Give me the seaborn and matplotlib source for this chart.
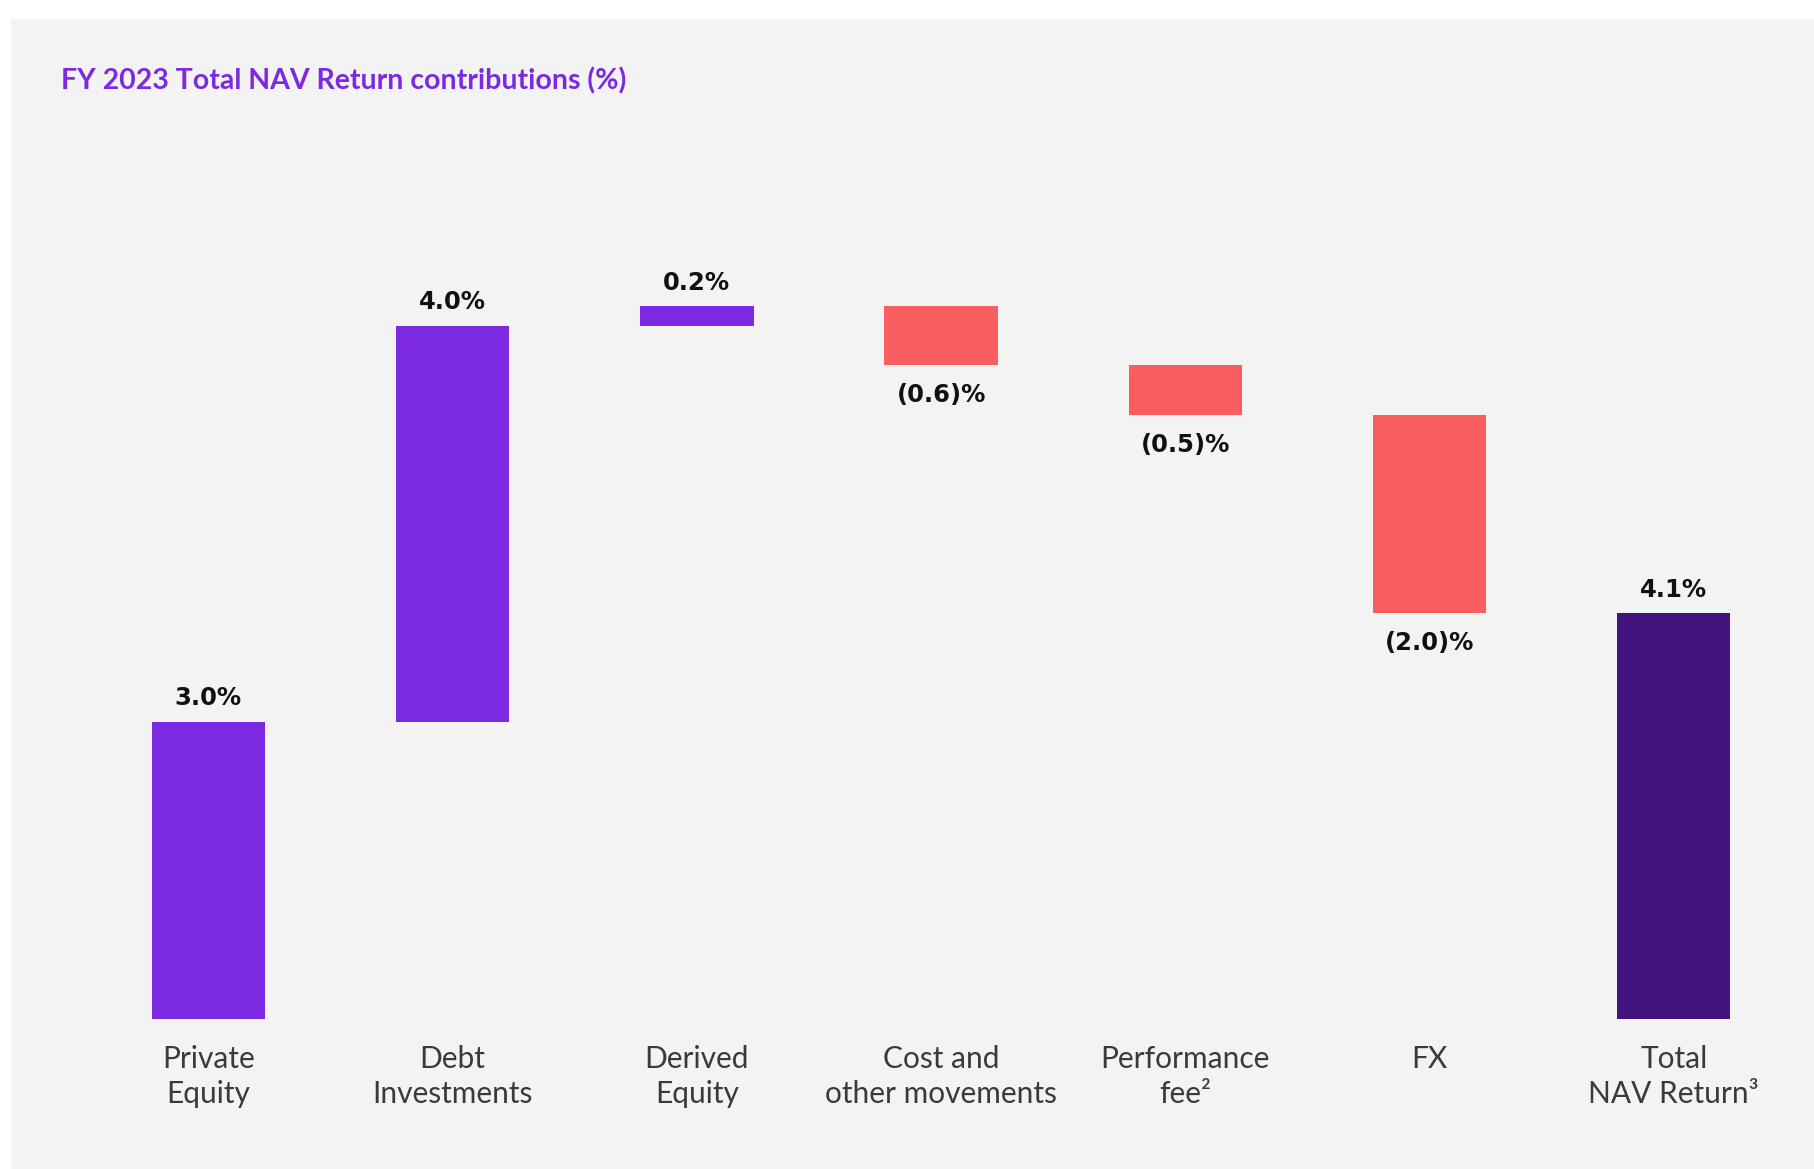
import matplotlib
matplotlib.use("Agg")
import matplotlib.pyplot as plt
import seaborn as sns
import numpy as np
import pandas as pd
from matplotlib.patches import Rectangle

categories = ["Private\nEquity", "Debt\nInvestments", "Derived\nEquity",
              "Cost and\nother movements", "Performance\nfee\u00b2", "FX",
              "Total\nNAV Return\u00b3"]
values = [3.0, 4.0, 0.2, -0.6, -0.5, -2.0, 4.1]
value_labels = ["3.0%", "4.0%", "0.2%", "(0.6)%", "(0.5)%", "(2.0)%", "4.1%"]
is_total = [False, False, False, False, False, False, True]

title = "FY 2023 Total NAV Return contributions (%)"

col_pos = "#7B2AE2"
col_neg = "#F95E5E"
col_tot = "#42127E"
bg = "#F3F3F3"

# waterfall geometry
bottoms, heights = [], []
running = 0.0
for v, t in zip(values, is_total):
    if t:
        b, h = 0.0, v
    else:
        b = running if v >= 0 else running + v
        h = abs(v)
        running += v
    bottoms.append(b)
    heights.append(h)
colors = [col_tot if t else (col_pos if v >= 0 else col_neg) for v, t in zip(values, is_total)]

df = pd.DataFrame({"category": categories, "height": heights})

sns.set_theme(style="white")
fig = plt.figure(figsize=(18.15, 11.69), dpi=100)
fig.patch.set_facecolor("white")
fig.patches.append(Rectangle((11 / 1815, 0), 1, 1 - 19 / 1169, transform=fig.transFigure,
                             facecolor=bg, edgecolor="none", zorder=-10))

ax = fig.add_axes([0.04755, 0.1287, 0.9419, 0.6775])
ax.set_facecolor("none")
sns.barplot(data=df, x="category", y="height", order=categories, bottom=bottoms,
            width=0.464, color=col_pos, ax=ax, errorbar=None, linewidth=0)
for patch, c in zip(ax.patches, colors):
    patch.set_facecolor(c)
    patch.set_edgecolor("none")

ax.set_xlim(-0.5, 6.5)
ax.set_ylim(0, 8)
for s in ax.spines.values():
    s.set_visible(False)
ax.set_yticks([])
ax.set_xlabel("")
ax.set_ylabel("")
ax.tick_params(axis="x", length=0, pad=19)
for lbl in ax.get_xticklabels():
    lbl.set_fontfamily(["Lato", "DejaVu Sans"])
    lbl.set_fontweight("normal")
    lbl.set_fontsize(21.5)
    lbl.set_color("#3a3a3a")
    lbl.set_linespacing(1.3)

for i, (v, b, h, lab) in enumerate(zip(values, bottoms, heights, value_labels)):
    if v >= 0:
        ax.annotate(lab, (i, b + h), xytext=(0, 8), textcoords="offset points",
                    ha="center", va="bottom", fontsize=17.5, fontweight="bold",
                    color="#111111", family="DejaVu Sans")
    else:
        ax.annotate(lab, (i, b), xytext=(0, -13), textcoords="offset points",
                    ha="center", va="top", fontsize=17.5, fontweight="bold",
                    color="#111111", family="DejaVu Sans")

fig.text(61 / 1815, 1 - 89 / 1169, title, ha="left", va="baseline",
         fontsize=20.5, fontweight="bold", color="#7B2AE2", family=["Lato", "DejaVu Sans"])

fig.savefig("out.png", dpi=100, facecolor="white")
